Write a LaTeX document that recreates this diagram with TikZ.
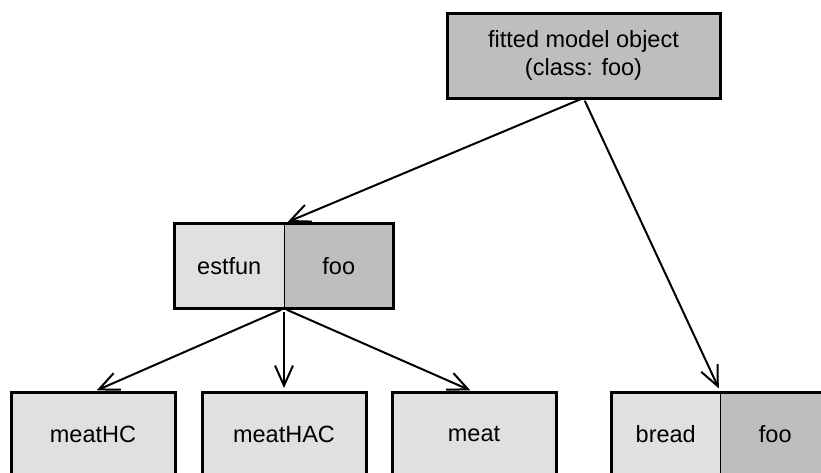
\documentclass[tikz,border=0pt]{standalone}
\usepackage{fontspec}
\setmainfont{Liberation Sans}
\usetikzlibrary{arrows.meta, positioning}
\definecolor{lightfill}{RGB}{224,224,224}
\definecolor{darkfill}{RGB}{190,190,190}
\tikzset{
        x=1pt, y=-1pt, % pixel coordinates, y runs downwards
        >={Straight Barb[length=20pt,width=18pt]}, % open arrow heads
        font=\fontsize{23.5}{27.5}\selectfont, % sans text as in the plot
    }
\tikzstyle{fnbox}=[draw=black,line width=3pt,minimum width=164pt,minimum height=85pt,inner sep=0pt,outer sep=0pt,fill=lightfill]
\tikzstyle{halfbox}=[draw=black,line width=1pt,minimum width=109.5pt,minimum height=85pt,inner sep=0pt,outer sep=0pt]
\tikzstyle{outline}=[draw=black,line width=3pt]
\tikzstyle{link}=[->,draw=black,line width=2pt,shorten <=3pt,shorten >=4pt]

\begin{document}
\begin{tikzpicture}
    \useasboundingbox (0,0) rectangle (821,472);
    % top node
    \node[fnbox,fill=darkfill,minimum width=273pt,align=center] (model) at (583.5,55.5)
        {fitted model object\\(class: foo)};
    % estfun with its class
    \node[halfbox,fill=lightfill] (estfun) at (229.25,266) {estfun};
    \node[halfbox,fill=darkfill,right=0pt of estfun] (estfoo) {foo};
    \draw[outline] (estfun.north west) rectangle (estfoo.south east);
    % meat functions
    \node[fnbox] (meatHC) at (93,434.5) {meatHC};
    \node[fnbox,right=27pt of meatHC] (meatHAC) {meatHAC};
    \node[fnbox,right=26pt of meatHAC] (meat) {meat};
    % bread with its class
    \node[halfbox,fill=lightfill] (bread) at (665.75,434.5) {bread};
    \node[halfbox,fill=darkfill,right=0pt of bread] (breadfoo) {foo};
    \draw[outline] (bread.north west) rectangle (breadfoo.south east);
    % arrows
    \draw[link] (model.south) -- (estfun.north east);
    \draw[link] (model.south) -- (bread.north east);
    \draw[link] (estfun.south east) -- (meatHC.north);
    \draw[link] (estfun.south east) -- (meatHAC.north);
    \draw[link] (estfun.south east) -- (meat.north);
\end{tikzpicture}
\end{document}
